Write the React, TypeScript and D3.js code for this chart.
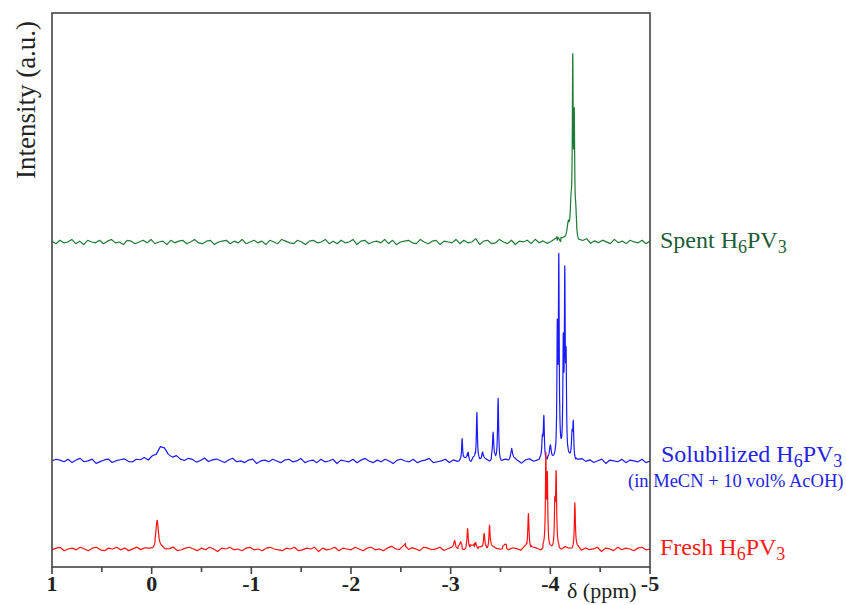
import React from 'react';
import * as d3 from 'd3';

const xTicks = [1, 0, -1, -2, -3, -4, -5];
const xMinor = [0.5, -0.5, -1.5, -2.5, -3.5, -4.5];

// Peak tables: chemical shift (ppm), height (a.u.), half-width (ppm)
const spentPos = [-4.08, -4.18, -4.208, -4.225, -4.24, -4.255];
const spentHeight = [6, 14, 30, 168, 108, 20];
const spentWidth = [0.015, 0.015, 0.01, 0.005, 0.005, 0.008];

const solPos = [-0.11, -3.115, -3.175, -3.263, -3.32, -3.426, -3.476, -3.61, -3.92, -3.935, -4.0, -4.07, -4.085, -4.13, -4.145, -4.158, -4.218, -4.23];
const solHeight = [14, 22, 10, 48, 9, 26, 62, 11, 18, 44, 13, 122, 194, 102, 172, 88, 24, 36];
const solWidth = [0.07, 0.006, 0.008, 0.006, 0.01, 0.007, 0.006, 0.012, 0.006, 0.006, 0.01, 0.005, 0.005, 0.005, 0.005, 0.005, 0.006, 0.006];

const freshPos = [-0.055, -2.55, -3.04, -3.1, -3.17, -3.25, -3.336, -3.39, -3.55, -3.78, -3.955, -3.97, -4.045, -4.058, -4.246];
const freshHeight = [27, 4, 9, 5, 20, 7, 15, 25, 3, 36, 88, 68, 40, 72, 47];
const freshWidth = [0.015, 0.02, 0.01, 0.01, 0.007, 0.01, 0.008, 0.007, 0.02, 0.007, 0.005, 0.005, 0.005, 0.006, 0.006];

// Baseline noise (every 0.04 ppm from 1 to -5), in noise units
const spentNoise = [0.5,-1,1,-0.5,0,1.5,-1,0.5,-1.5,1,0,-0.5,1,-1,0.5,1.5,-0.5,0,-1.5,1,0.5,-1,0,1,-0.5,1.5,-1,0,0.5,-1.5,1,-0.5,0.5,1,-1,0,1.5,-0.5,-1,0.5,1,-1.5,0,0.5,1,-1,0.5,-0.5,1.5,-1,0,1,-0.5,0.5,-1.5,1,0,-1,1.5,0.5,-0.5,-1,1,0,-1.5,0.5,1,-0.5,0,1.5,-1,0.5,-1,1,-0.5,0,1.5,-1.5,0.5,1,-1,0,0.5,-0.5,1.5,-1,1,-1.5,0,0.5,1,-0.5,-1,1.5,0,-1,0.5,1,-1.5,0.5,0,-0.5,1.5,-1,1,-0.5,0,2,-1.5,0.5,1,-1,-0.5,1.5,0,-1,1,-1.5,0.5,0,1,-1,1.5,-0.5,0.5,-1,0,1,-1.5,1,0.5,-0.5,1,-1,0,1.5,-1,0.5,-0.5,1,0,-1,1.5,-0.5,0.5,-1,1,0,-0.5,1,-1,0.5];
const solNoise = [0,1,0.5,-0.5,1,-1,0.5,1.5,-0.5,0,1,-1.5,-0.5,0.5,1,-1,0,0.5,1,-0.5,-1,0.5,0,1,-1,0.5,-0.5,1,0,-1,-0.5,1.5,0,-0.5,1,0.5,-1,0,1.5,-0.5,0.5,1,0,-1,0.5,1.5,-0.5,0,-1,0.5,1,-1.5,0,0.5,-0.5,1,0,-1,0.5,1,-0.5,0,1.5,-1,0,0.5,-1,1,-0.5,0,1,-1.5,0.5,0,-0.5,1,-1,0.5,1.5,0,-1,0.5,-0.5,1,0,-1.5,0.5,1,0,-0.5,1,-1,0,0.5,1.5,-1,-0.5,0,1,-1,0.5,-0.5,0,1,-1,1.5,0,-0.5,0.5,-1,1,0,-1,0.5,-0.5,1,0,-1.5,0.5,1,-0.5,0,1,-1,0.5,0,-1,1.5,-0.5,0.5,-1,0,1,-0.5,0.5,-1,0,1,-1.5,0.5,0,-0.5,1,-1,0.5,0,-0.5,1,-1,0];
const freshNoise = [-0.5,0.5,1,-1,0,0.5,-0.5,1,0,-1,0.5,1,-0.5,-1,0.5,0,1,-0.5,0.5,-1,0,1,-0.5,0.5,0,-1,1,0.5,-0.5,0,1,-1,-0.5,0.5,1,0,-1,0.5,-0.5,1,0,-1.5,0.5,0,1,-0.5,0,-1,0.5,1,-0.5,0,-1,0.5,1,0,-0.5,-1,0.5,0,1,-1,-0.5,0.5,0,1,-1.5,0.5,-0.5,0,1,-1,0.5,0,-0.5,1,0,-1,0.5,1,-0.5,0,-1,0.5,1.5,0,-0.5,1,-1,0.5,0,-1,1,0.5,-0.5,0,1,-1,0,0.5,-0.5,1,-1,0,1.5,-0.5,0.5,0,-1,1,0,-0.5,1,-1,0.5,0,-1,1,-0.5,0.5,0,-1.5,1,0,-0.5,0.5,-1,1,0,-0.5,1,-1,0.5,-0.5,0,1,-1.5,0.5,0,-1,1,-0.5,0.5,0,-1,0.5,1,-0.5,0];

const offsets = { spent: 325, sol: 106, fresh: 18 };
const noiseGain = 1.7;

function buildTrace(pos: number[], h: number[], w: number[], noise: number[], offset: number): [number, number][] {
  const n = noise.length;
  const step = 6 / (n - 1);
  const lor = (x: number) => pos.reduce((s, p, j) => s + h[j] / (1 + ((x - p) / w[j]) ** 2), 0);
  const nearestNoise = (x: number) => noise[Math.max(0, Math.min(n - 1, Math.round((1 - x) / step)))] * noiseGain;
  const pts: [number, number][] = [];
  for (let i = 0; i < n; i++) {
    const x = 1 - i * step;
    pts.push([x, offset + noise[i] * noiseGain + lor(x)]);
  }
  pos.forEach((p, j) => {
    if (w[j] < 0.03) {
      for (let k = -15; k <= 15; k++) {
        const x = p + k * 0.002;
        pts.push([x, offset + nearestNoise(x) + lor(x)]);
      }
    }
  });
  pts.sort((a, b) => b[0] - a[0]);
  return pts;
}

const W = 846, H = 605;
const L = 52, R = 650, T = 13, B = 567;

export default function App() {
  const x = d3.scaleLinear().domain([1, -5]).range([L, R]);
  const y = d3.scaleLinear().domain([0, B - T]).range([B, T]);
  const line = d3.line<[number, number]>().x(d => x(d[0])).y(d => y(d[1]));

  const traces = [
    { d: buildTrace(spentPos, spentHeight, spentWidth, spentNoise, offsets.spent), c: '#1e7b34' },
    { d: buildTrace(solPos, solHeight, solWidth, solNoise, offsets.sol), c: '#1a1aff' },
    { d: buildTrace(freshPos, freshHeight, freshWidth, freshNoise, offsets.fresh), c: '#ff1010' },
  ];

  const serif = '"Liberation Serif", "DejaVu Serif", serif';

  return (
    <svg width={W} height={H} style={{ position: 'absolute', left: 0, top: 0, background: '#fff' }} fontFamily={serif}>
      <rect x={0} y={0} width={W} height={H} fill="#fff" />
      {traces.map((t, i) => (
        <path key={i} d={line(t.d) || ''} fill="none" stroke={t.c} strokeWidth={1.2} strokeLinejoin="round" />
      ))}
      <rect x={L} y={T} width={R - L} height={B - T} fill="none" stroke="#444" strokeWidth={1.6} />
      {xTicks.map(v => (
        <g key={'t' + v}>
          <line x1={x(v)} x2={x(v)} y1={B} y2={B + 7} stroke="#444" strokeWidth={1.6} />
          <text x={x(v)} y={591} textAnchor="middle" fontSize={22} fontWeight="bold" fill="#222">{String(v)}</text>
        </g>
      ))}
      {xMinor.map(v => (
        <line key={'m' + v} x1={x(v)} x2={x(v)} y1={B} y2={B + 5} stroke="#444" strokeWidth={1.6} />
      ))}
      <text x={567} y={598} fontSize={22} fill="#222">δ (ppm)</text>
      <text transform="translate(35,100) rotate(-90)" textAnchor="middle" fontSize={27} fill="#222">Intensity (a.u.)</text>

      <text x={660} y={248} fontSize={24} fill="#1d5c35">
        Spent H<tspan dy={5} fontSize={18}>6</tspan><tspan dy={-5}>PV</tspan><tspan dy={5} fontSize={18}>3</tspan>
      </text>
      <text x={661} y={462} fontSize={24} fill="#2323e6">
        Solubilized H<tspan dy={5} fontSize={18}>6</tspan><tspan dy={-5}>PV</tspan><tspan dy={5} fontSize={18}>3</tspan>
      </text>
      <text x={628} y={487} fontSize={18.5} fill="#2323e6">(in MeCN + 10 vol% AcOH)</text>
      <text x={660} y={555} fontSize={24} fill="#ff1a1a">
        Fresh H<tspan dy={5} fontSize={18}>6</tspan><tspan dy={-5}>PV</tspan><tspan dy={5} fontSize={18}>3</tspan>
      </text>
    </svg>
  );
}
